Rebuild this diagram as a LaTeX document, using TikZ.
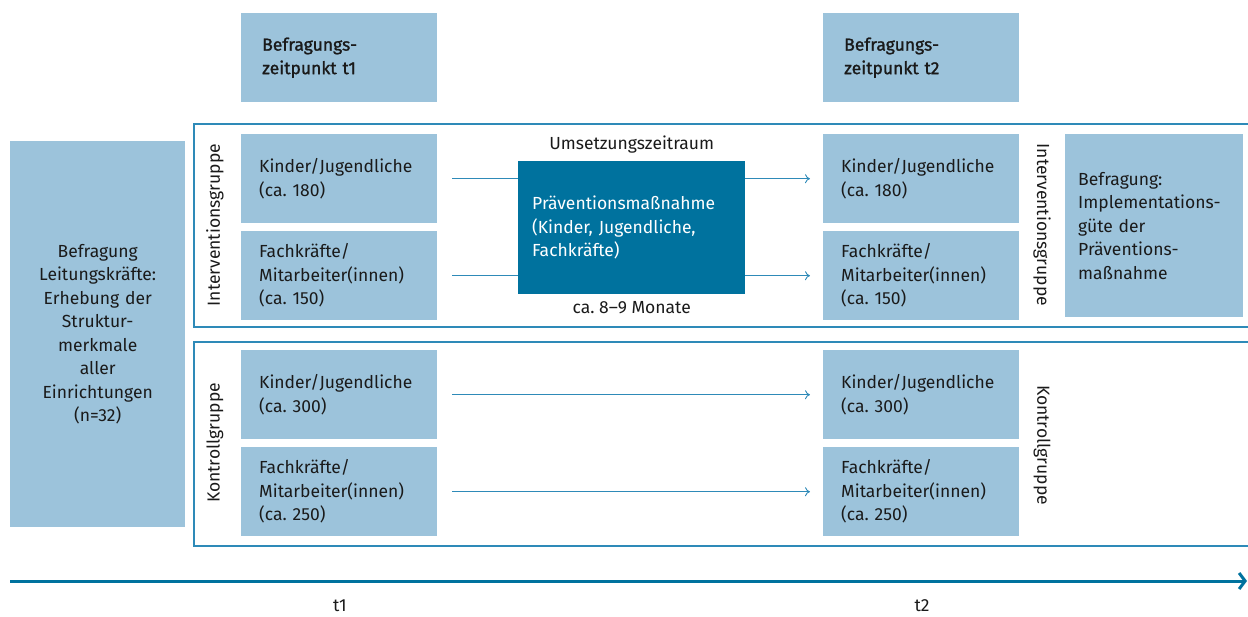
\documentclass[tikz,border=0pt]{standalone}
\usepackage{fontspec}
\setmainfont{Fira Sans}
\newfontfamily\halbfett[FakeBold=1.3]{Fira Sans}
\usetikzlibrary{positioning,arrows.meta}
\definecolor{hellblau}{HTML}{9CC3DB}
\definecolor{dunkelblau}{HTML}{00729E}
\definecolor{linie}{HTML}{2E8AB8}
\definecolor{schrift}{HTML}{1A1A1A}
\frenchspacing

\begin{document}
\begin{tikzpicture}[x=1pt,y=-1pt,
		font=\fontsize{17.5}{23.5}\selectfont, text=schrift,
		feld/.style={fill=hellblau, anchor=north west, inner xsep=18pt,
			text width=160pt, align=left, minimum height=89pt},
		zeitfeld/.style={feld, font=\fontsize{17.5}{23.5}\selectfont\halbfett,
			text width=154pt, inner xsep=21pt},
		pfeil/.style={draw=linie, line width=0.9pt, -{To[length=5pt,width=9pt]}},
		rahmen/.style={draw=linie, line width=1.4pt}]
		\useasboundingbox (0,0) rectangle (1248,616);

		% Zeitpunkte
		\node[zeitfeld] (zp1) at (241,13) {Befragungs-\\zeitpunkt t1};
		\node[zeitfeld] (zp2) at (823,13) {Befragungs-\\zeitpunkt t2};

		% Leitungskraefte
		\node[feld, text width=175pt, inner xsep=0pt, minimum height=386pt, align=center]
			(leit) at (10,141)
			{Befragung\\Leitungskräfte:\\Erhebung der\\Struktur-\\merkmale\\aller\\Einrichtungen\\(n=32)};

		% Interventionsgruppe
		\draw[rahmen] (1248,124) -| (194,327) -- (1248,327);
		\node[rotate=90] (ig1) at (215,225) {Interventionsgruppe};
		\node[rotate=-90] (ig2) at (1042,225) {Interventionsgruppe};
		\node[feld] (kj1) at (241,134) {Kinder/Jugendliche\\(ca. 180)};
		\node[feld] (fk1) at (241,231) {Fachkräfte/\\Mitarbeiter(innen)\\(ca. 150)};
		\node[feld] (kj2) at (823,134) {Kinder/Jugendliche\\(ca. 180)};
		\node[feld] (fk2) at (823,231) {Fachkräfte/\\Mitarbeiter(innen)\\(ca. 150)};
		\node[fill=dunkelblau, text=white, anchor=north west, inner xsep=14pt,
			text width=199pt, align=left, minimum height=133pt] (prae) at (518,161)
			{Präventionsmaßnahme\\(Kinder, Jugendliche,\\Fachkräfte)};
		\node[above=4pt of prae] (zr) {Umsetzungszeitraum};
		\node[below=4pt of prae] (dauer) {ca. 8--9 Monate};
		\node[feld, text width=152pt, inner xsep=13pt, minimum height=183pt]
			(impl) at (1065,134)
			{Befragung:\\Implementations-\\güte der\\Präventions-\\maßnahme};

		\draw[draw=linie, line width=0.9pt] ([xshift=15pt]kj1.east) -- (prae.west |- kj1.east);
		\draw[draw=linie, line width=0.9pt] ([xshift=15pt]fk1.east) -- (prae.west |- fk1.east);
		\draw[pfeil] (prae.east |- kj2.west) -- ([xshift=-13pt]kj2.west);
		\draw[pfeil] (prae.east |- fk2.west) -- ([xshift=-13pt]fk2.west);

		% Kontrollgruppe
		\draw[rahmen] (1248,342) -| (194,546) -- (1248,546);
		\node[rotate=90] (kg1) at (215,443) {Kontrollgruppe};
		\node[rotate=-90] (kg2) at (1042,445) {Kontrollgruppe};
		\node[feld] (kk1) at (241,350) {Kinder/Jugendliche\\(ca. 300)};
		\node[feld] (kf1) at (241,447) {Fachkräfte/\\Mitarbeiter(innen)\\(ca. 250)};
		\node[feld] (kk2) at (823,350) {Kinder/Jugendliche\\(ca. 300)};
		\node[feld] (kf2) at (823,447) {Fachkräfte/\\Mitarbeiter(innen)\\(ca. 250)};

		\draw[pfeil] ([xshift=15pt]kk1.east) -- ([xshift=-13pt]kk2.west);
		\draw[pfeil] ([xshift=15pt]kf1.east) -- ([xshift=-13pt]kf2.west);

		% Zeitachse
		\coordinate (za) at (10,581);
		\coordinate (ze) at (1247,581);
		\draw[draw=dunkelblau, line width=3pt, -{Straight Barb[length=6pt,width=16pt]}] (za) -- (ze);
		\node (t1) at (340,606) {t1};
		\node (t2) at (922,606) {t2};
	\end{tikzpicture}
\end{document}
